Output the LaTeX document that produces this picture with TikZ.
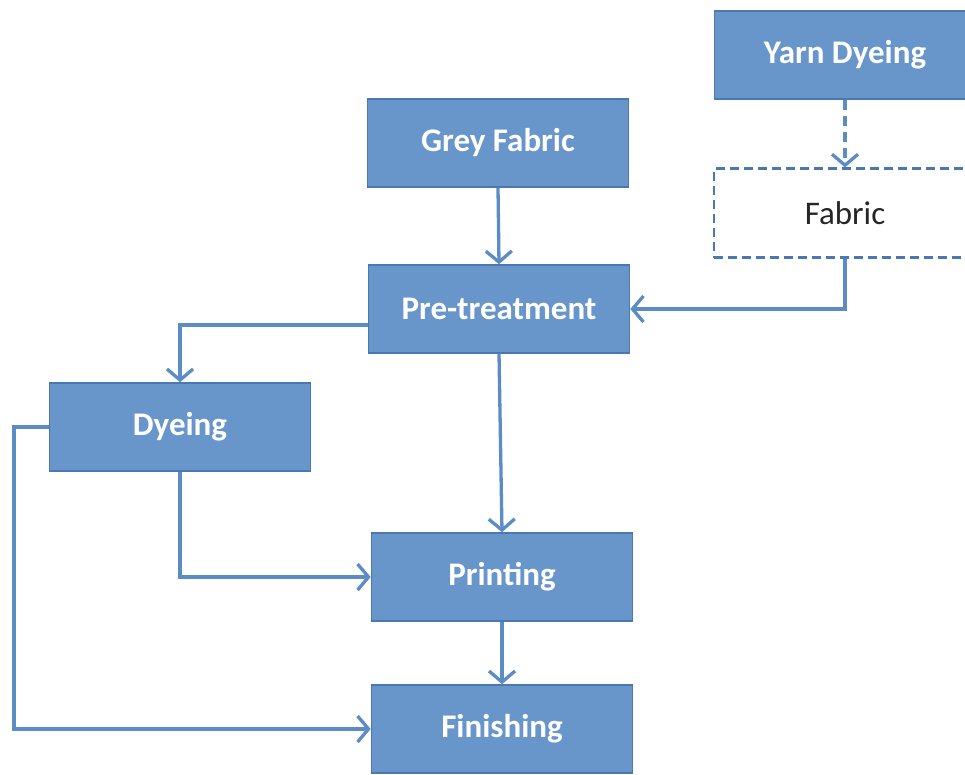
\documentclass[tikz,border=0pt]{standalone}
\usepackage{fontspec}
\setmainfont{Carlito}
\usetikzlibrary{arrows.meta}
\definecolor{boxfill}{RGB}{104,150,202}
\definecolor{boxedge}{RGB}{74,120,176}
\definecolor{linkblue}{RGB}{92,140,198}
\begin{document}
\begin{tikzpicture}[x=1pt,y=-1pt,
  stage/.style={draw=boxedge, line width=1.6pt, fill=boxfill, text=white,
    font=\fontsize{33}{36}\selectfont\bfseries,
    minimum width=261pt, minimum height=88pt, inner sep=0pt},
  optional/.style={draw=boxedge, line width=2.2pt, dash pattern=on 9pt off 5pt,
    fill=white, text=black!85, font=\fontsize{33}{36}\selectfont,
    minimum width=262pt, minimum height=89pt, inner sep=0pt},
  link/.style={draw=linkblue, line width=3.3pt,
    -{Straight Barb[length=11pt,width=26pt]}},
  dashlink/.style={link, dash pattern=on 10pt off 6pt}]
\useasboundingbox (0,0) rectangle (965,774);
\clip (0,0) rectangle (965,774);

% process stages
\node[stage] (yarn) at (845,55) {Yarn Dyeing};
\node[optional] (fab) at (845,213) {Fabric};
\node[stage] (grey) at (498,143) {Grey Fabric};
\node[stage] (pre) at (499,309) {Pre-treatment};
\node[stage] (dye) at (180,427) {Dyeing};
\node[stage] (pri) at (502,577) {Printing};
\node[stage] (fin) at (502,729) {Finishing};

% connectors
\draw[dashlink] (yarn.south) -- (fab.north);
\draw[link] (grey.south) -- (pre.north);
\draw[link] (fab.south) |- (pre.east);
\draw[link] ([yshift=-16pt]pre.west) -| (dye.north);
\draw[link] (pre.south) -- (pri.north);
\draw[link] (dye.south) |- (pri.west);
\coordinate (loopleft) at (14,427);
\draw[link] (dye.west) -- (loopleft) |- (fin.west);
\draw[link] (pri.south) -- (fin.north);
\end{tikzpicture}
\end{document}
